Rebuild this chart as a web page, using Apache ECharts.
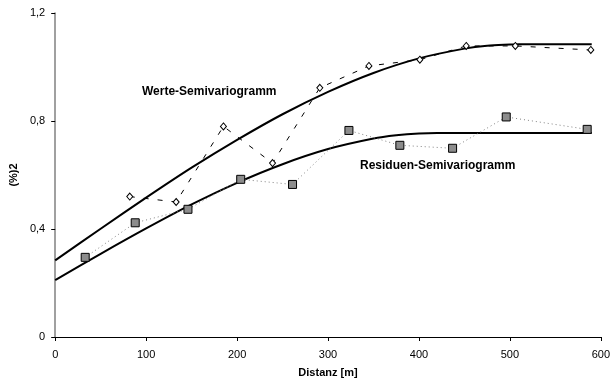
<!DOCTYPE html>
<html><head><meta charset="utf-8">
<script src="https://cdn.jsdelivr.net/npm/echarts@6/dist/echarts.min.js"></script>
<style>html,body{margin:0;padding:0;background:#fff}#c{width:613px;height:383px}</style>
</head><body><div id="c"></div>
<script>
// Experimental semivariogram points (distance [m], value)
const werteX = [82, 133, 185, 239, 291, 345, 401, 452, 506, 589];
const werteY = [0.52, 0.50, 0.78, 0.644, 0.923, 1.004, 1.027, 1.078, 1.078, 1.063];
const resX = [33, 88, 146, 204, 261, 323, 379, 437, 496, 585];
const resY = [0.295, 0.423, 0.473, 0.584, 0.565, 0.765, 0.71, 0.699, 0.815, 0.769];
// Fitted model curves
const modelX = [0, 50, 100, 150, 200, 250, 300, 350, 400, 450, 475, 500, 510, 550, 590];
const werteModel = [0.284, 0.401, 0.516, 0.627, 0.730, 0.825, 0.908, 0.978, 1.032, 1.068, 1.079, 1.083, 1.084, 1.084, 1.084];
const resModelX = [0, 50, 100, 150, 200, 250, 300, 350, 375, 400, 420, 460, 500, 590];
const resModel = [0.211, 0.308, 0.402, 0.491, 0.571, 0.640, 0.696, 0.735, 0.747, 0.754, 0.756, 0.756, 0.756, 0.756];
const xTicks = [0, 100, 200, 300, 400, 500, 600];
const yTicks = [0, 0.4, 0.8, 1.2];

const zip = (a, b) => a.map((v, i) => [v, b[i]]);
const font = 'Liberation Sans, Arial, sans-serif';
const chart = echarts.init(document.getElementById('c'));
chart.setOption({
  animation: false,
  grid: {left: 54, right: 9, top: 13, bottom: 46},
  xAxis: {
    type: 'value', min: xTicks[0], max: xTicks[xTicks.length - 1], interval: 100,
    name: 'Distanz [m]', nameLocation: 'middle', nameGap: 30,
    nameTextStyle: {fontFamily: font, fontSize: 11, fontWeight: 'bold', color: '#000'},
    axisLine: {lineStyle: {color: '#000', width: 1}},
    axisTick: {show: true, length: 4, lineStyle: {color: '#000'}},
    axisLabel: {fontFamily: font, fontSize: 11, color: '#000', margin: 12},
    splitLine: {show: false}
  },
  yAxis: {
    type: 'value', min: yTicks[0], max: yTicks[yTicks.length - 1], interval: 0.4,
    name: '(%)2', nameLocation: 'middle', nameGap: 36, nameRotate: 90,
    nameTextStyle: {fontFamily: font, fontSize: 11, fontWeight: 'bold', color: '#000'},
    axisLine: {show: true, lineStyle: {color: '#808080', width: 1.5}},
    axisTick: {show: true, length: 4, lineStyle: {color: '#000'}},
    axisLabel: {fontFamily: font, fontSize: 11, color: '#000', margin: 10,
      formatter: v => String(Math.round(v * 10) / 10).replace('.', ',')},
    splitLine: {show: false}
  },
  graphic: [
    {type: 'text', left: 142, top: 86, style: {text: 'Werte-Semivariogramm', font: 'bold 12px ' + font, fill: '#000'}},
    {type: 'text', left: 360, top: 160, style: {text: 'Residuen-Semivariogramm', font: 'bold 12px ' + font, fill: '#000'}}
  ],
  series: [
    {type: 'line', data: zip(modelX, werteModel), showSymbol: false, smooth: 0.3,
     lineStyle: {color: '#000', width: 2}, z: 2},
    {type: 'line', data: zip(resModelX, resModel), showSymbol: false, smooth: 0.3,
     lineStyle: {color: '#000', width: 2}, z: 2},
    {type: 'line', data: zip(werteX, werteY), symbol: 'diamond', symbolSize: [6, 7],
     itemStyle: {color: '#fff', borderColor: '#000', borderWidth: 1},
     lineStyle: {color: '#000', width: 1, type: [5, 9]}, z: 3},
    {type: 'line', data: zip(resX, resY), symbol: 'rect', symbolSize: 8,
     itemStyle: {color: '#8c8c8c', borderColor: '#000', borderWidth: 1},
     lineStyle: {color: '#808080', width: 1, type: [1, 3]}, z: 3}
  ]
});
</script></body></html>
